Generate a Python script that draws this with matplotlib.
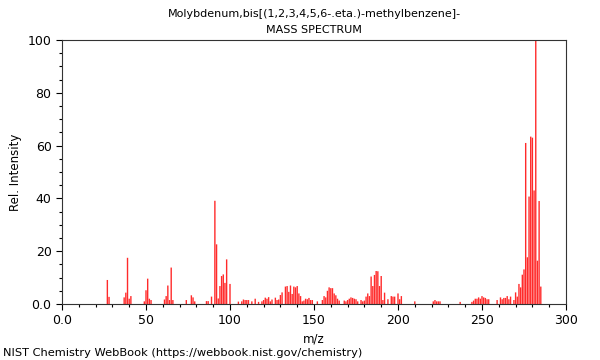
import numpy as np
import matplotlib
matplotlib.use('Agg')
import matplotlib.pyplot as plt
from matplotlib.ticker import MultipleLocator, FuncFormatter

plt.rcParams['font.family'] = ['DejaVu Sans']

# ---- 质谱数据 (m/z, 相对强度) ----
mz = [27, 28, 37, 38, 39, 40, 41, 49, 50, 51, 52, 53, 61, 62, 63, 64, 65, 66,
      74, 77, 78, 79, 86, 87, 89, 91, 92, 93, 94, 95, 96, 97, 98, 100,
      105, 107, 108, 109, 110, 111, 113, 115, 117, 119, 120, 121, 122, 123,
      124, 125, 127, 128, 129, 130, 131, 133, 134, 135, 136, 137, 138, 139,
      140, 141, 142, 143, 144, 145, 146, 147, 148, 149, 152, 155, 156, 157,
      158, 159, 160, 161, 162, 163, 164, 165, 168, 169, 170, 171, 172, 173,
      174, 175, 176, 178, 179, 180, 181, 182, 183, 184, 185, 186, 187, 188,
      189, 190, 191, 192, 194, 196, 197, 198, 200, 201, 202, 210,
      221, 222, 223, 224, 225, 237, 244, 245, 246, 247, 248, 249, 250, 251,
      252, 253, 254, 259, 261, 262, 263, 264, 265, 266, 267, 269, 270, 271,
      272, 273, 274, 275, 276, 277, 278, 279, 280, 281, 282, 283, 284, 285]
intensity = [9.1, 2.7, 2.5, 4.3, 17.5, 2.0, 3.0, 1.0, 5.2, 9.6, 2.0, 1.5, 1.7, 3.0, 7.0, 1.5, 13.8, 1.5,
             1.5, 3.3, 2.5, 1.0, 1.1, 1.1, 2.8, 39.1, 22.6, 2.1, 6.8, 10.6, 11.2, 8.0, 16.9, 7.6,
             0.9, 1.0, 1.7, 1.5, 1.5, 1.5, 1.0, 2.0, 0.8, 1.0, 1.5, 2.4, 2.0, 2.6,
             1.0, 1.7, 2.4, 1.5, 1.7, 3.4, 4.4, 6.6, 6.8, 4.6, 7.0, 3.8, 6.6, 6.3,
             6.8, 4.0, 3.0, 1.0, 1.3, 2.0, 1.8, 2.3, 1.5, 1.5, 1.0, 1.5, 3.0, 2.5,
             5.0, 6.3, 6.0, 6.0, 4.0, 3.3, 2.0, 1.3, 1.3, 1.0, 1.5, 2.0, 2.5, 2.3,
             2.0, 1.8, 1.0, 1.5, 1.0, 1.3, 2.8, 4.0, 3.0, 10.4, 6.8, 11.0, 12.5, 12.4,
             6.8, 10.6, 1.5, 4.3, 1.8, 3.0, 2.8, 2.8, 4.0, 1.8, 3.0, 1.0,
             1.0, 1.5, 1.0, 1.0, 1.0, 0.8, 0.8, 1.3, 2.0, 2.0, 2.5, 2.0, 3.0, 2.5,
             2.3, 1.8, 1.8, 1.5, 2.5, 1.8, 2.3, 2.3, 3.0, 1.8, 2.8, 1.5, 4.4, 2.8,
             7.6, 6.3, 11.1, 13.1, 61.0, 17.7, 40.7, 63.4, 63.0, 43.0, 100.0, 16.4, 39.0, 6.6]

title_1 = 'Molybdenum,bis[(1,2,3,4,5,6-.eta.)-methylbenzene]-'
title_2 = 'MASS SPECTRUM'

fig = plt.figure(figsize=(6, 3.6), dpi=100)
ax = fig.add_axes([62 / 600, 1 - 304 / 360, 504 / 600, 264 / 360])

ax.vlines(mz, 0, intensity, color='#ff2a2a', linewidth=1.0, snap=False)

ax.set_xlim(0, 300)
ax.set_ylim(0, 100)
ax.xaxis.set_major_locator(MultipleLocator(50))
ax.xaxis.set_minor_locator(MultipleLocator(10))
ax.yaxis.set_major_locator(MultipleLocator(20))
ax.yaxis.set_minor_locator(MultipleLocator(5))
fmt = FuncFormatter(lambda v, p: '0.0' if v == 0 else f'{v:.0f}')
ax.xaxis.set_major_formatter(fmt)
ax.yaxis.set_major_formatter(fmt)
ax.tick_params(labelsize=9, direction='out', length=4, width=0.8)
ax.tick_params(which='minor', length=2.5, width=0.8)
for s in ax.spines.values():
    s.set_linewidth(0.8)
    s.set_color('#333333')

ax.set_xlabel('m/z', fontsize=8.5)
ax.set_ylabel('Rel. Intensity', fontsize=8.5)

fig.text(314 / 600, 1 - 14 / 360, title_1, fontsize=8, ha='center', va='center')
fig.text(314 / 600, 1 - 30 / 360, title_2, fontsize=8, ha='center', va='center')
fig.text(3 / 600, 1 - 353 / 360, 'NIST Chemistry WebBook (https://webbook.nist.gov/chemistry)',
         fontsize=8.2, va='center', ha='left')

fig.savefig('out.png', dpi=100)
